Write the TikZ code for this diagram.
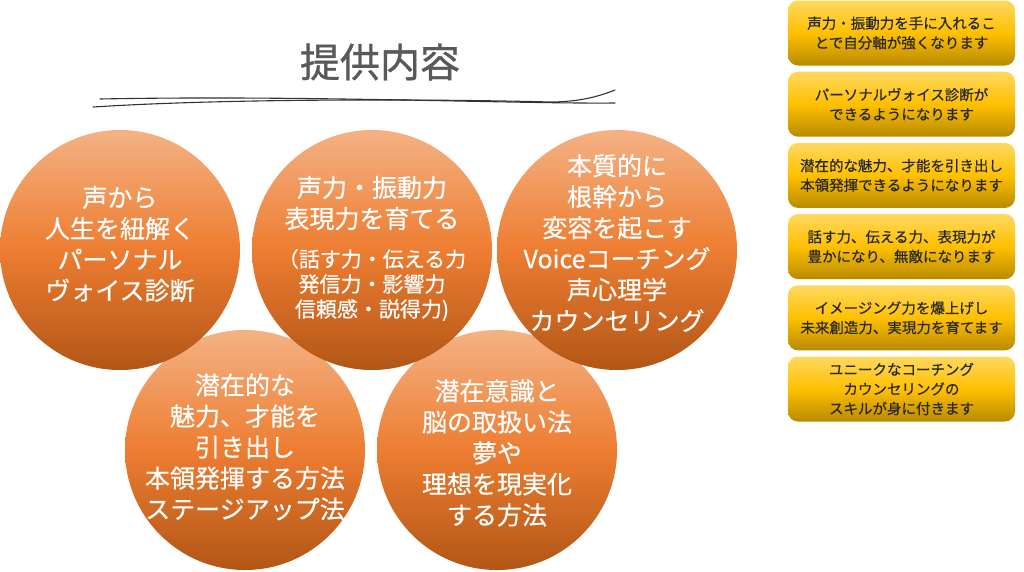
\documentclass[tikz,border=0pt]{standalone}
\usepackage{fontspec}
\setmainfont{Noto Sans CJK JP}
\newfontfamily\jpmedio{Noto Sans CJK JP}[FakeBold=0.8]
\newfontfamily\jpleve{Noto Sans CJK JP}[FakeBold=0.4]
\usepackage{xcolor}
\usepackage{tikz}
\usetikzlibrary{positioning}
\definecolor{laranjaclaro}{RGB}{244,178,132}
\definecolor{laranja}{RGB}{237,125,49}
\definecolor{laranjaescuro}{RGB}{178,86,22}
\definecolor{ouroclaro}{RGB}{255,216,96}
\definecolor{ouro}{RGB}{255,192,0}
\definecolor{ouroescuro}{RGB}{184,138,0}
\definecolor{cinzatitulo}{RGB}{89,89,89}
\definecolor{cinzatexto}{RGB}{40,40,40}
\tikzset{
  bola/.style={circle,minimum size=240pt,inner sep=0pt,draw=none,
    top color=laranjaclaro,bottom color=laranjaescuro,middle color=laranja},
  textobola/.style={align=center,text=white,inner sep=0pt,
    font=\jpleve\fontsize{25}{31}\selectfont},
  textomenor/.style={align=center,text=white,inner sep=0pt,
    font=\jpleve\fontsize{21}{25}\selectfont},
  caixa/.style={rectangle,rounded corners=10pt,minimum width=227pt,minimum height=65pt,
    top color=ouroclaro,bottom color=ouroescuro,middle color=ouro,draw=none,
    align=center,text=cinzatexto,inner sep=0pt,font=\jpleve\fontsize{14.5}{19.5}\selectfont},
  titulo/.style={text=cinzatitulo,inner sep=0pt,font=\jpmedio\fontsize{40}{44}\selectfont},
  traco/.style={line width=1.1pt,black!80,line cap=round}
}

\begin{document}
\begin{tikzpicture}[x=1pt,y=-1pt]
\fill[white] (0,0) rectangle (1024,571);
\useasboundingbox (0,0) rectangle (1024,571);

% titulo
\node[titulo] (titulo) at (380,62) {提供内容};
\draw[traco] (100,99) .. controls (300,95) and (520,104) .. (615,103);
\draw[traco] (93,107) .. controls (250,97) and (480,100) .. (550,102)
  .. controls (580,102) and (600,96) .. (615,90);

% bolas de baixo primeiro
\node[bola] (metodo) at (245,450) {};
\node[bola] (sonho) at (497,450) {};
\node[bola] (diagnostico) at (120,250) {};
\node[bola] (forca) at (372,250) {};
\node[bola] (coaching) at (617,250) {};

\node[textobola] (diagnosticotexto) at (120,244)
  {声から\\人生を紐解く\\パーソナル\\ヴォイス診断};
\node[textobola] (forcatexto) at (372,203)
  {声力・振動力\\表現力を育てる};
\node[textomenor] (forcanota) at (372,285)
  {（話す力・伝える力\\発信力・影響力\\信頼感・説得力)};
\node[textobola] (coachingtexto) at (617,243)
  {本質的に\\根幹から\\変容を起こす\\Voiceコーチング\\声心理学\\カウンセリング};
\node[textobola] (metodotexto) at (245,447)
  {潜在的な\\魅力、才能を\\引き出し\\本領発揮する方法\\ステージアップ法};
\node[textobola] (sonhotexto) at (497,453)
  {潜在意識と\\脳の取扱い法\\夢や\\理想を現実化\\する方法};

% caixas da direita
\node[caixa] (caixa1) at (901.5,33) {声力・振動力を手に入れるこ\\とで自分軸が強くなります};
\node[caixa,below=5.8pt of caixa1] (caixa2) {パーソナルヴォイス診断が\\できるようになります};
\node[caixa,below=5.8pt of caixa2] (caixa3) {潜在的な魅力、才能を引き出し\\本領発揮できるようになります};
\node[caixa,below=5.8pt of caixa3] (caixa4) {話す力、伝える力、表現力が\\豊かになり、無敵になります};
\node[caixa,below=5.8pt of caixa4] (caixa5) {イメージング力を爆上げし\\未来創造力、実現力を育てます};
\node[caixa,below=5.8pt of caixa5] (caixa6) {ユニークなコーチング\\カウンセリングの\\スキルが身に付きます};
\end{tikzpicture}
\end{document}
